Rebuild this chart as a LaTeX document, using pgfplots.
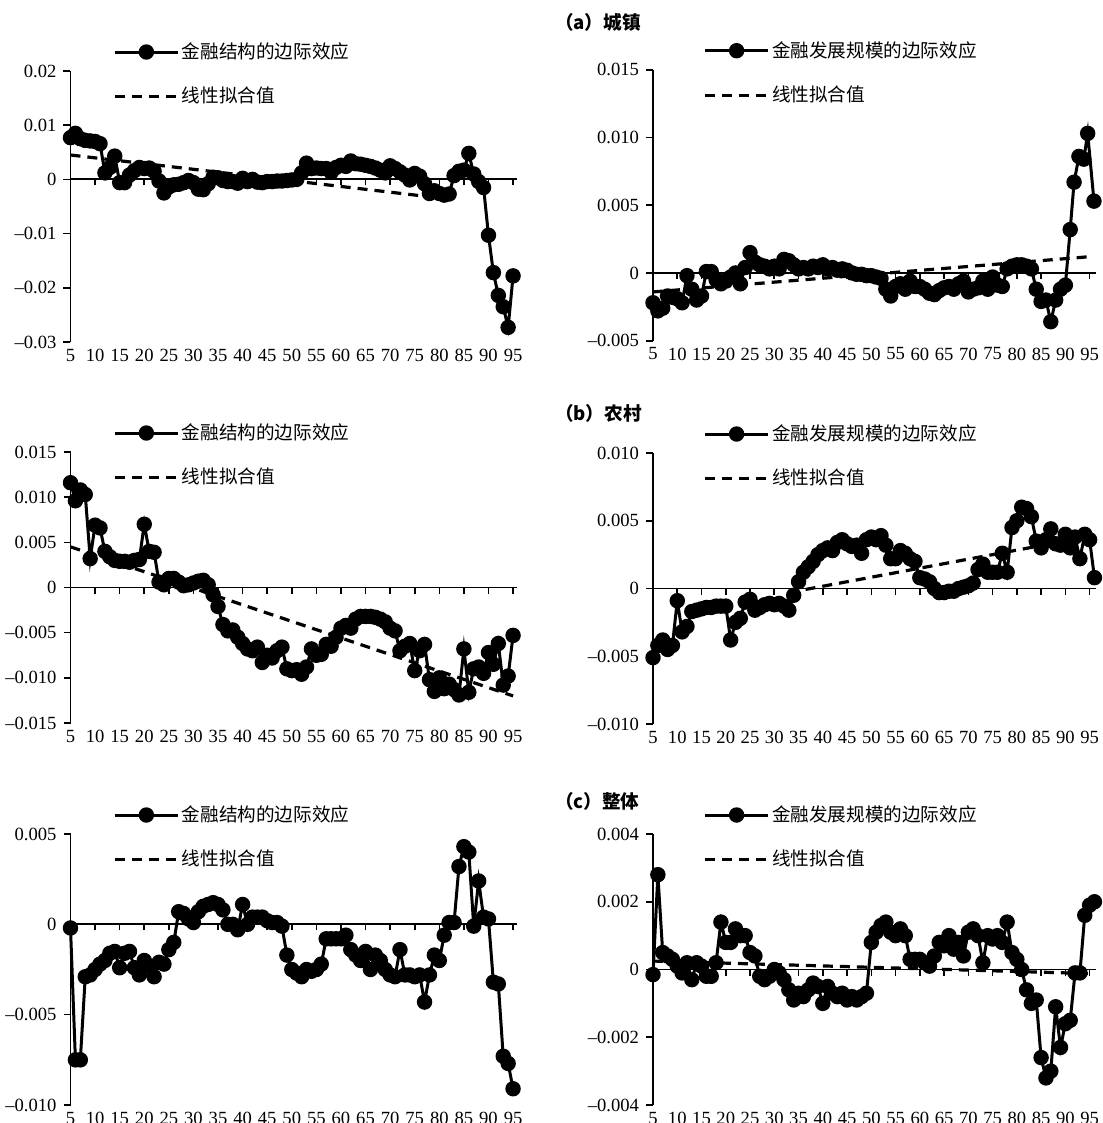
\documentclass[border=0pt]{standalone}
\usepackage{fontspec}
\setmainfont{Liberation Serif}
\newfontfamily\cjk{Noto Sans CJK SC}
\usepackage{pgfplots}
\pgfplotsset{compat=1.18}
\pgfplotsset{
  legend image code/.code={\draw[mark repeat=2,mark phase=2,#1] plot coordinates {(0pt,0pt) (15.75pt,0pt) (31.5pt,0pt)};},
  panel/.style={
    scale only axis, height=135.5pt, xmin=5,
    axis y line=left, axis x line=bottom,
    axis line style={-, line width=0.8pt},
    x axis line style={draw=none},
    xtick={5,10,...,95}, xtick style={draw=none},
    ytick style={line width=0.8pt, black},
    tick align=outside, major tick length=3.5pt,
    scaled y ticks=false,
    ticklabel style={font=\fontsize{9.3}{11}\selectfont},
    xticklabel style={yshift=3.5pt},
    /pgf/number format/assume math mode=true,
    clip=false,
    legend cell align=left,
    legend style={draw=none, fill=white, anchor=west, inner sep=0pt,
      nodes={inner sep=1.2pt}, row sep=10.5pt,
      font=\cjk\fontsize{9.3}{11}\selectfont},
  },
  zeroaxis/.style={
    scale only axis, height=135.5pt, xmin=5,
    axis x line=middle, axis y line=none,
    axis line style={-, line width=0.9pt},
    xtick={10,15,...,95}, xticklabels={}, ytick=\empty,
    tick align=center, major tick length=3pt,
    xtick style={line width=0.8pt, black, yshift=-1.5pt},
  },
  leftpanel/.style={panel, width=223pt, xmax=95.7,
    legend style={at={(axis description cs:0.095,0.988)}}},
  rightpanel/.style={panel, width=221.7pt, xmax=96.4,
    legend style={at={(axis description cs:0.113,0.988)}}},
  leftzero/.style={zeroaxis, width=223pt, xmax=95.7},
  rightzero/.style={zeroaxis, width=221.7pt, xmax=96.4},
  data/.style={black, line width=1.5pt, mark=*, mark size=3.1pt, mark options={solid}},
  fit/.style={black, line width=1.6pt, dash pattern=on 5pt off 3.5pt},
}
\begin{document}
\begin{tikzpicture}
\useasboundingbox (0,0) rectangle (551pt,-561.5pt);
\node[anchor=west, font=\cjk\bfseries\fontsize{9.3}{11}\selectfont] at (274pt,-11pt) {（a）城镇};
\node[anchor=west, font=\cjk\bfseries\fontsize{9.3}{11}\selectfont] at (274pt,-206.5pt) {（b）农村};
\node[anchor=west, font=\cjk\bfseries\fontsize{9.3}{11}\selectfont] at (274pt,-400.5pt) {（c）整体};

% ---------- (a) left
\begin{axis}[leftzero, at={(35.25pt,-171pt)}, anchor=south west, ymin=-0.03, ymax=0.02]
\end{axis}
\begin{axis}[leftpanel, at={(35.25pt,-171pt)}, anchor=south west,
  ymin=-0.03, ymax=0.02, ytick={-0.03,-0.02,-0.01,0,0.01,0.02},
  yticklabels={–0.03,–0.02,–0.01,0,0.01,0.02}]
\addplot[fit, forget plot] coordinates {(5,0.0045)(78,-0.0032)};
\addplot[data] coordinates {(5,0.0077)(6,0.0085)(7,0.0075)(8,0.0072)(9,0.0071)(10,0.0070)(11,0.0066)(12,0.0012)(13,0.0022)(14,0.0043)(15,-0.0006)(16,-0.0006)(17,0.0008)(18,0.0016)(19,0.0022)(20,0.0020)(21,0.0021)(22,0.0015)(23,-0.0003)(24,-0.0025)(25,-0.0014)(26,-0.0010)(27,-0.0009)(28,-0.0006)(29,-0.0002)(30,-0.0006)(31,-0.0018)(32,-0.0019)(33,-0.0008)(34,0.0004)(35,0.0003)(36,-0.0002)(37,-0.0004)(38,-0.0004)(39,-0.0007)(40,0.0002)(41,-0.0004)(42,0.0000)(43,-0.0005)(44,-0.0006)(45,-0.0004)(46,-0.0004)(47,-0.0003)(48,-0.0003)(49,-0.0002)(50,-0.0001)(51,0.0000)(52,0.0012)(53,0.0030)(54,0.0020)(55,0.0021)(56,0.0020)(57,0.0020)(58,0.0013)(59,0.0022)(60,0.0026)(61,0.0024)(62,0.0034)(63,0.0029)(64,0.0028)(65,0.0026)(66,0.0024)(67,0.0021)(68,0.0017)(69,0.0012)(70,0.0025)(71,0.0020)(72,0.0014)(73,0.0008)(74,-0.0001)(75,0.0011)(76,0.0006)(77,-0.0008)(78,-0.0026)(79,-0.0021)(80,-0.0026)(81,-0.0029)(82,-0.0027)(83,0.0007)(84,0.0015)(85,0.0017)(86,0.0048)(87,0.0010)(88,-0.0004)(89,-0.0015)(90,-0.0103)(91,-0.0172)(92,-0.0214)(93,-0.0235)(94,-0.0273)(95,-0.0178)};
\addlegendentry{金融结构的边际效应}
\addlegendimage{fit}
\addlegendentry{线性拟合值}
\end{axis}

% ---------- (a) right
\begin{axis}[rightzero, at={(326.5pt,-170.35pt)}, anchor=south west, ymin=-0.005, ymax=0.015]
\end{axis}
\begin{axis}[rightpanel, at={(326.5pt,-170.35pt)}, anchor=south west,
  ymin=-0.005, ymax=0.015, ytick={-0.005,0,0.005,0.010,0.015},
  yticklabels={–0.005,0,0.005,0.010,0.015}]
\addplot[fit, forget plot] coordinates {(5,-0.0014)(95,0.0012)};
\addplot[data] coordinates {(5,-0.0022)(6,-0.0028)(7,-0.0026)(8,-0.0017)(9,-0.0018)(10,-0.0019)(11,-0.0022)(12,-0.0002)(13,-0.0012)(14,-0.0020)(15,-0.0017)(16,0.0001)(17,0.0001)(18,-0.0005)(19,-0.0008)(20,-0.0006)(21,-0.0003)(22,0.0000)(23,-0.0008)(24,0.0004)(25,0.0015)(26,0.0008)(27,0.0006)(28,0.0005)(29,0.0003)(30,0.0005)(31,0.0003)(32,0.0010)(33,0.0009)(34,0.0006)(35,0.0003)(36,0.0004)(37,0.0003)(38,0.0005)(39,0.0004)(40,0.0006)(41,0.0003)(42,0.0004)(43,0.0002)(44,0.0003)(45,0.0002)(46,0.0000)(47,-0.0001)(48,-0.0001)(49,-0.0002)(50,-0.0002)(51,-0.0003)(52,-0.0004)(53,-0.0012)(54,-0.0017)(55,-0.0010)(56,-0.0008)(57,-0.0012)(58,-0.0006)(59,-0.0010)(60,-0.0010)(61,-0.0012)(62,-0.0015)(63,-0.0016)(64,-0.0013)(65,-0.0011)(66,-0.0010)(67,-0.0012)(68,-0.0008)(69,-0.0006)(70,-0.0014)(71,-0.0012)(72,-0.0011)(73,-0.0006)(74,-0.0012)(75,-0.0003)(76,-0.0009)(77,-0.0010)(78,0.0003)(79,0.0005)(80,0.0006)(81,0.0006)(82,0.0005)(83,0.0003)(84,-0.0012)(85,-0.0021)(86,-0.0020)(87,-0.0036)(88,-0.0020)(89,-0.0012)(90,-0.0009)(91,0.0032)(91.8,0.0067)(92.8,0.0086)(93.8,0.0084)(94.6,0.0103)(95.9,0.0053)};
\addlegendentry{金融发展规模的边际效应}
\addlegendimage{fit}
\addlegendentry{线性拟合值}
\end{axis}

% ---------- (b) left
\begin{axis}[leftzero, at={(35.25pt,-361.5pt)}, anchor=south west, ymin=-0.015, ymax=0.015]
\end{axis}
\begin{axis}[leftpanel, at={(35.25pt,-361.5pt)}, anchor=south west,
  ymin=-0.015, ymax=0.015, ytick={-0.015,-0.010,-0.005,0,0.005,0.010,0.015},
  yticklabels={–0.015,–0.010,–0.005,0,0.005,0.010,0.015}]
\addplot[fit, forget plot] coordinates {(5,0.0045)(95,-0.0120)};
\addplot[data] coordinates {(5,0.0116)(6,0.0096)(7,0.0108)(8,0.0103)(9,0.0032)(10,0.0069)(11,0.0066)(12,0.0040)(13,0.0034)(14,0.0030)(15,0.0029)(16,0.0029)(17,0.0028)(18,0.0030)(19,0.0031)(20,0.0070)(21,0.0040)(22,0.0039)(23,0.0006)(24,0.0003)(25,0.0010)(26,0.0010)(27,0.0006)(28,0.0002)(29,0.0003)(30,0.0005)(31,0.0007)(32,0.0008)(33,0.0003)(34,-0.0008)(35,-0.0021)(36,-0.0041)(37,-0.0048)(38,-0.0047)(39,-0.0055)(40,-0.0062)(41,-0.0068)(42,-0.0070)(43,-0.0066)(44,-0.0083)(45,-0.0075)(46,-0.0078)(47,-0.0070)(48,-0.0066)(49,-0.0090)(50,-0.0092)(51,-0.0091)(52,-0.0096)(53,-0.0088)(54,-0.0068)(55,-0.0075)(56,-0.0074)(57,-0.0063)(58,-0.0065)(59,-0.0055)(60,-0.0045)(61,-0.0042)(62,-0.0045)(63,-0.0035)(64,-0.0032)(65,-0.0032)(66,-0.0032)(67,-0.0033)(68,-0.0035)(69,-0.0038)(70,-0.0045)(71,-0.0048)(72,-0.0070)(73,-0.0065)(74,-0.0062)(75,-0.0092)(76,-0.0070)(77,-0.0063)(78,-0.0102)(79,-0.0115)(80,-0.0100)(81,-0.0112)(82,-0.0107)(83,-0.0113)(84,-0.0119)(85,-0.0068)(86,-0.0116)(87,-0.0090)(88,-0.0088)(89,-0.0095)(90,-0.0072)(91,-0.0085)(92,-0.0062)(93,-0.0108)(94,-0.0098)(95,-0.0053)};
\addlegendentry{金融结构的边际效应}
\addlegendimage{fit}
\addlegendentry{线性拟合值}
\end{axis}

% ---------- (b) right
\begin{axis}[rightzero, at={(326.5pt,-362pt)}, anchor=south west, ymin=-0.010, ymax=0.010]
\end{axis}
\begin{axis}[rightpanel, at={(326.5pt,-362pt)}, anchor=south west,
  ymin=-0.010, ymax=0.010, ytick={-0.010,-0.005,0,0.005,0.010},
  yticklabels={–0.010,–0.005,0,0.005,0.010}]
\addplot[fit, forget plot] coordinates {(33,-0.0003)(93,0.0037)};
\addplot[data] coordinates {(5,-0.0051)(6,-0.0042)(7,-0.0038)(8,-0.0045)(9,-0.0042)(10,-0.0009)(11,-0.0032)(12,-0.0028)(13,-0.0017)(14,-0.0016)(15,-0.0015)(16,-0.0014)(17,-0.0014)(18,-0.0013)(19,-0.0013)(20,-0.0013)(21,-0.0038)(22,-0.0025)(23,-0.0022)(24,-0.0010)(25,-0.0008)(26,-0.0016)(27,-0.0014)(28,-0.0012)(29,-0.0011)(30,-0.0012)(31,-0.0011)(32,-0.0013)(33,-0.0016)(34,-0.0005)(35,0.0005)(36,0.0012)(37,0.0016)(38,0.0020)(39,0.0025)(40,0.0028)(41,0.0030)(42,0.0028)(43,0.0034)(44,0.0036)(45,0.0033)(46,0.0031)(47,0.0032)(48,0.0026)(49,0.0036)(50,0.0038)(51,0.0036)(52,0.0039)(53,0.0032)(54,0.0022)(55,0.0022)(56,0.0028)(57,0.0026)(58,0.0022)(59,0.0020)(60,0.0008)(61,0.0007)(62,0.0005)(63,0.0000)(64,-0.0003)(65,-0.0003)(66,-0.0002)(67,-0.0002)(68,0.0000)(69,0.0001)(70,0.0002)(71,0.0004)(72,0.0014)(73,0.0018)(74,0.0012)(75,0.0012)(76,0.0012)(77,0.0026)(78,0.0012)(79,0.0045)(80,0.0050)(81,0.0060)(82,0.0059)(83,0.0053)(84,0.0035)(85,0.0030)(86,0.0036)(87,0.0044)(88,0.0033)(89,0.0032)(90,0.0040)(91,0.0030)(92,0.0038)(93,0.0022)(94,0.0040)(95,0.0036)(96,0.0008)};
\addlegendentry{金融发展规模的边际效应}
\addlegendimage{fit}
\addlegendentry{线性拟合值}
\end{axis}

% ---------- (c) left
\begin{axis}[leftzero, at={(35.25pt,-552.5pt)}, anchor=south west, ymin=-0.010, ymax=0.005]
\end{axis}
\begin{axis}[leftpanel, at={(35.25pt,-552.5pt)}, anchor=south west,
  ymin=-0.010, ymax=0.005, ytick={-0.010,-0.005,0,0.005},
  yticklabels={–0.010,–0.005,0,0.005}]
\addplot[data] coordinates {(5,-0.0002)(6,-0.0075)(7,-0.0075)(8,-0.0029)(9,-0.0028)(10,-0.0025)(11,-0.0022)(12,-0.0020)(13,-0.0016)(14,-0.0015)(15,-0.0024)(16,-0.0016)(17,-0.0015)(18,-0.0024)(19,-0.0028)(20,-0.0020)(21,-0.0023)(22,-0.0029)(23,-0.0021)(24,-0.0022)(25,-0.0014)(26,-0.0010)(27,0.0007)(28,0.0006)(29,0.0003)(30,0.0001)(31,0.0007)(32,0.0010)(33,0.0011)(34,0.0012)(35,0.0011)(36,0.0008)(37,0.0000)(38,0.0000)(39,-0.0003)(40,0.0011)(41,0.0000)(42,0.0004)(43,0.0004)(44,0.0004)(45,0.0002)(46,0.0001)(47,0.0001)(48,-0.0001)(49,-0.0017)(50,-0.0025)(51,-0.0027)(52,-0.0029)(53,-0.0025)(54,-0.0026)(55,-0.0025)(56,-0.0022)(57,-0.0008)(58,-0.0008)(59,-0.0008)(60,-0.0008)(61,-0.0006)(62,-0.0014)(63,-0.0017)(64,-0.0020)(65,-0.0015)(66,-0.0025)(67,-0.0017)(68,-0.0020)(69,-0.0025)(70,-0.0028)(71,-0.0029)(72,-0.0014)(73,-0.0028)(74,-0.0028)(75,-0.0029)(76,-0.0028)(77,-0.0043)(78,-0.0028)(79,-0.0017)(80,-0.0020)(81,-0.0006)(82,0.0001)(83,0.0001)(84,0.0032)(85,0.0043)(86,0.0040)(87,-0.0001)(88,0.0024)(89,0.0004)(90,0.0003)(91,-0.0032)(92,-0.0033)(93,-0.0073)(94,-0.0077)(95,-0.0091)};
\addlegendentry{金融结构的边际效应}
\addlegendimage{fit}
\addlegendentry{线性拟合值}
\end{axis}

% ---------- (c) right
\begin{axis}[rightzero, at={(326.5pt,-552.5pt)}, anchor=south west, ymin=-0.004, ymax=0.004]
\end{axis}
\begin{axis}[rightpanel, at={(326.5pt,-552.5pt)}, anchor=south west,
  ymin=-0.004, ymax=0.004, ytick={-0.004,-0.002,0,0.002,0.004},
  yticklabels={–0.004,–0.002,0,0.002,0.004}]
\addplot[fit, forget plot] coordinates {(5,0.00025)(95,-0.00012)};
\addplot[data] coordinates {(5,-0.00015)(6,0.0028)(7,0.0005)(8,0.0004)(9,0.0003)(10,0.0001)(11,-0.0001)(12,0.0002)(13,-0.0003)(14,0.0002)(15,0.0001)(16,-0.0002)(17,-0.0002)(18,0.0002)(19,0.0014)(20,0.0008)(21,0.0008)(22,0.0012)(23,0.0010)(24,0.0010)(25,0.0005)(26,0.0004)(27,-0.0002)(28,-0.0003)(29,-0.0002)(30,0.0000)(31,-0.0001)(32,-0.0003)(33,-0.0006)(34,-0.0009)(35,-0.0007)(36,-0.0008)(37,-0.0006)(38,-0.0004)(39,-0.0005)(40,-0.0010)(41,-0.0005)(42,-0.0007)(43,-0.0008)(44,-0.0007)(45,-0.0009)(46,-0.0008)(47,-0.0009)(48,-0.0008)(49,-0.0007)(50,0.0008)(51,0.0011)(52,0.0013)(53,0.0014)(54,0.0011)(55,0.0010)(56,0.0012)(57,0.0010)(58,0.0003)(59,0.0003)(60,0.0003)(61,0.0002)(62,0.0001)(63,0.0004)(64,0.0008)(65,0.0007)(66,0.0010)(67,0.0006)(68,0.0008)(69,0.0004)(70,0.0011)(71,0.0012)(72,0.0010)(73,0.0002)(74,0.0010)(75,0.0009)(76,0.0010)(77,0.0008)(78,0.0014)(79,0.0005)(80,0.0003)(81,0.0000)(82,-0.0006)(83,-0.0010)(84,-0.0009)(85,-0.0026)(86,-0.0032)(87,-0.0030)(88,-0.0011)(89,-0.0023)(90,-0.0016)(91,-0.0015)(92,-0.0001)(93,-0.0001)(94,0.0016)(95,0.0019)(96,0.0020)};
\addlegendentry{金融发展规模的边际效应}
\addlegendimage{fit}
\addlegendentry{线性拟合值}
\end{axis}
\end{tikzpicture}
\end{document}
